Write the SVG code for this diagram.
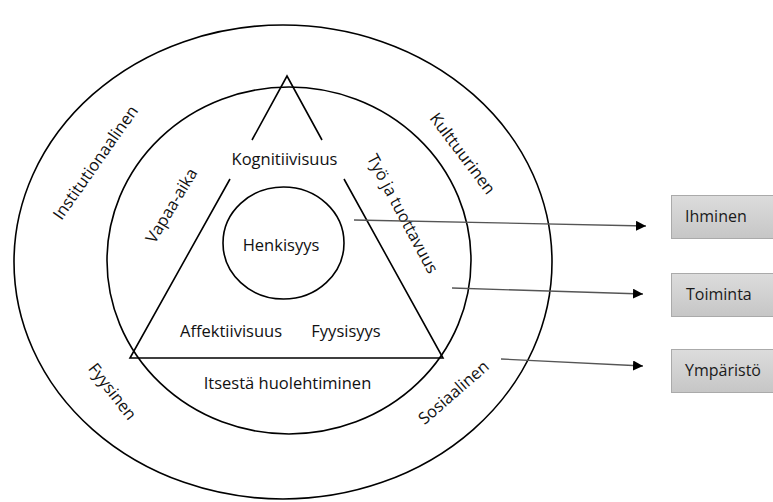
<svg xmlns="http://www.w3.org/2000/svg" width="773" height="502" viewBox="0 0 773 502">
<style>
.ln{fill:none;stroke:#000;stroke-width:1.6}
.t{font-family:"Open Sans","Liberation Sans",sans-serif;font-size:16.5px;fill:#111;text-anchor:middle}
.bt{font-family:"Open Sans","Liberation Sans",sans-serif;font-size:16px;fill:#1a1a1a}
.ar{fill:none;stroke:#555;stroke-width:1.3;marker-end:url(#ah)}
.box{fill:url(#g);stroke:#aaa;stroke-width:1}
</style>
<defs>
<marker id="ah" markerWidth="10" markerHeight="10" refX="10" refY="5" orient="auto" markerUnits="userSpaceOnUse">
<path d="M0,0 L10,5 L0,10 Z" fill="#000"/>
</marker>
<linearGradient id="g" x1="0" y1="0" x2="0" y2="1">
<stop offset="0" stop-color="#dcdcdc"/>
<stop offset="1" stop-color="#c6c6c6"/>
</linearGradient>
</defs>
<rect width="773" height="502" fill="#fff"/>
<g id="outer">
<ellipse class="ln" cx="283" cy="262" rx="269" ry="237"/>
<text class="t" transform="translate(96,163) rotate(-55)" dy="5">Institutionaalinen</text>
<text class="t" transform="translate(462,154) rotate(53)" dy="5">Kulttuurinen</text>
<text class="t" transform="translate(112,392) rotate(52)" dy="5">Fyysinen</text>
<text class="t" transform="translate(454,393) rotate(-41)" dy="5">Sosiaalinen</text>
</g>
<g id="inner">
<ellipse class="ln" cx="289" cy="260.5" rx="182" ry="173.5"/>
<text class="t" transform="translate(172,206) rotate(-59)" dy="5">Vapaa-aika</text>
<text class="t" transform="translate(402,214) rotate(62)" dy="5">Työ ja tuottavuus</text>
<text class="t" x="287.5" y="389">Itsestä huolehtiminen</text>
</g>
<g id="triangle">
<path class="ln" d="M252,140 L287,76 L322,140 M344,179 L443,358 L130,358 L230,179"/>
<text class="t" x="284.5" y="165">Kognitiivisuus</text>
<text class="t" x="231" y="337">Affektiivisuus</text>
<text class="t" x="346" y="337">Fyysisyys</text>
</g>
<g id="henkisyys">
<ellipse class="ln" cx="283.5" cy="243" rx="60.5" ry="56"/>
<text class="t" x="281" y="251">Henkisyys</text>
</g>
<g id="connectors">
<path class="ar" d="M354,220 L646,226"/>
<path class="ar" d="M452,288 L643,294"/>
<path class="ar" d="M501,359 L643,366"/>
</g>
<g id="ihminen">
<rect class="box" x="671.5" y="195.5" width="110" height="43"/>
<text class="bt" x="685" y="222">Ihminen</text>
</g>
<g id="toiminta">
<rect class="box" x="671.5" y="273.5" width="110" height="43"/>
<text class="bt" x="686" y="300">Toiminta</text>
</g>
<g id="ymparisto">
<rect class="box" x="671.5" y="349.5" width="110" height="43"/>
<text class="bt" x="685" y="376">Ympäristö</text>
</g>
</svg>
